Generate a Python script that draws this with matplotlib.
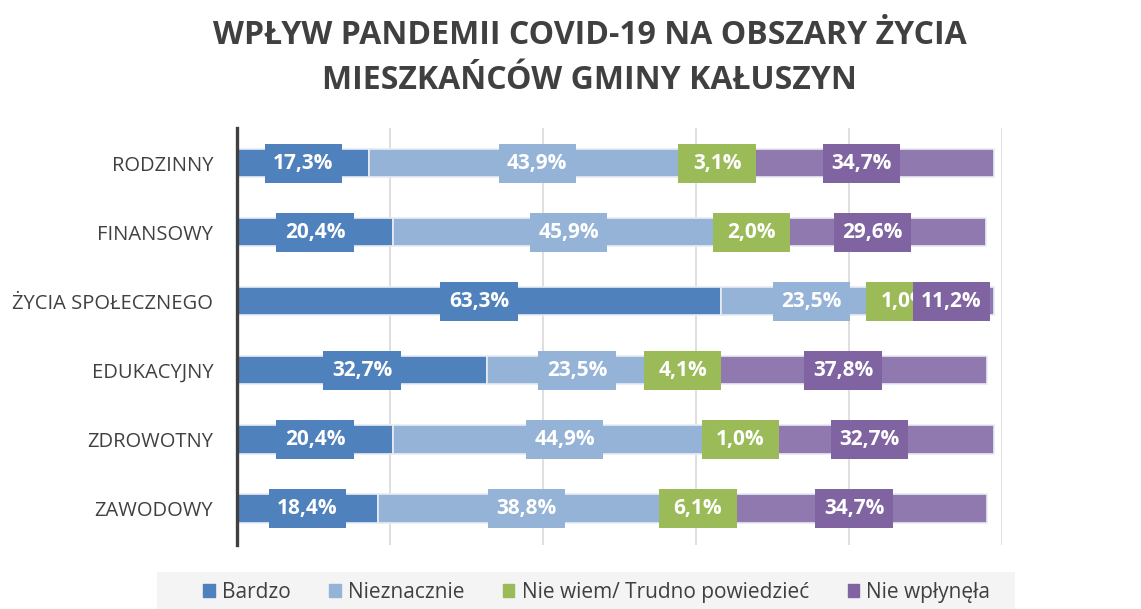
import matplotlib.pyplot as plt
import matplotlib.patches as mpatches
import numpy as np

plt.rcParams['font.family'] = ['Open Sans', 'DejaVu Sans']

categories = ['RODZINNY', 'FINANSOWY', 'ŻYCIA SPOŁECZNEGO', 'EDUKACYJNY', 'ZDROWOTNY', 'ZAWODOWY']
series_names = ['Bardzo', 'Nieznacznie', 'Nie wiem/ Trudno powiedzieć', 'Nie wpłynęła']
bardzo = [17.3, 20.4, 63.3, 32.7, 20.4, 18.4]
nieznacznie = [43.9, 45.9, 23.5, 23.5, 44.9, 38.8]
nie_wiem = [3.1, 2.0, 1.0, 4.1, 1.0, 6.1]
nie_wplynela = [34.7, 29.6, 11.2, 37.8, 32.7, 34.7]

box_colors = ['#4f81bd', '#95b3d7', '#9bbb59', '#8064a2']
bar_colors = ['#4f81bd', '#95b3d7', '#9bbb59', '#8f79af']
text_col = '#404040'

fig = plt.figure(figsize=(11.41, 6.09), dpi=100)
ax = fig.add_axes([0.2077, 0.1051, 0.6705, 0.6847])

y = np.arange(len(categories))
left = np.zeros(len(categories))
box_w, box_h, bar_h = 10.1, 0.56, 0.41
for k, (vals, bc, lc) in enumerate(zip([bardzo, nieznacznie, nie_wiem, nie_wplynela],
                                       bar_colors, box_colors)):
    vals = np.array(vals)
    ax.barh(y, vals, left=left, height=bar_h, color=bc, edgecolor='#e8ecf4',
            linewidth=1.2, zorder=2)
    # label boxes wider than the bar, centred on each segment;
    # later series sit on top so a box can hide a neighbour's label
    z = 3 + 2 * k
    for yi, l, v in zip(y, left, vals):
        cx = l + v / 2
        ax.add_patch(mpatches.Rectangle((cx - box_w / 2, yi - box_h / 2), box_w, box_h,
                                        facecolor=lc, edgecolor='none', zorder=z))
        ax.text(cx, yi, f'{v:.1f}%'.replace('.', ','), ha='center', va='center',
                color='white', fontsize=15, fontweight='bold', zorder=z + 1)
    left += vals

ax.set_xlim(0, 100)
ax.set_ylim(5.53, -0.51)
ax.set_xticks([20, 40, 60, 80, 100])
ax.set_xticklabels([])
ax.tick_params(axis='x', length=0)
ax.tick_params(axis='y', length=0, pad=17, labelsize=14.5, labelcolor=text_col)
ax.set_yticks(y)
ax.set_yticklabels(categories)
ax.grid(axis='x', color='#d9d9d9', linewidth=1.2, zorder=0)
for s in ['top', 'right', 'bottom']:
    ax.spines[s].set_visible(False)
ax.spines['left'].set_color('#404040')
ax.spines['left'].set_linewidth(2.4)
ax.spines['left'].set_zorder(20)

fig.text(0.517, 0.968, 'WPŁYW PANDEMII COVID-19 NA OBSZARY ŻYCIA\nMIESZKAŃCÓW GMINY KAŁUSZYN',
         ha='center', va='top', fontsize=23, fontweight='bold', color=text_col,
         linespacing=1.45)

# light grey band behind the legend
fig.patches.append(mpatches.Rectangle((157 / 1141, 0), 858 / 1141, 37 / 609,
                                      transform=fig.transFigure, facecolor='#f4f4f4',
                                      edgecolor='none', zorder=0))
handles = [mpatches.Patch(color=c) for c in box_colors]
fig.legend(handles, series_names, loc='center', bbox_to_anchor=(0.523, 0.027),
           ncol=4, frameon=False, fontsize=15, handlelength=0.55, handleheight=0.55,
           handletextpad=0.35, columnspacing=1.85, borderpad=0, borderaxespad=0,
           labelcolor=text_col)

fig.savefig('out.png', dpi=100)
